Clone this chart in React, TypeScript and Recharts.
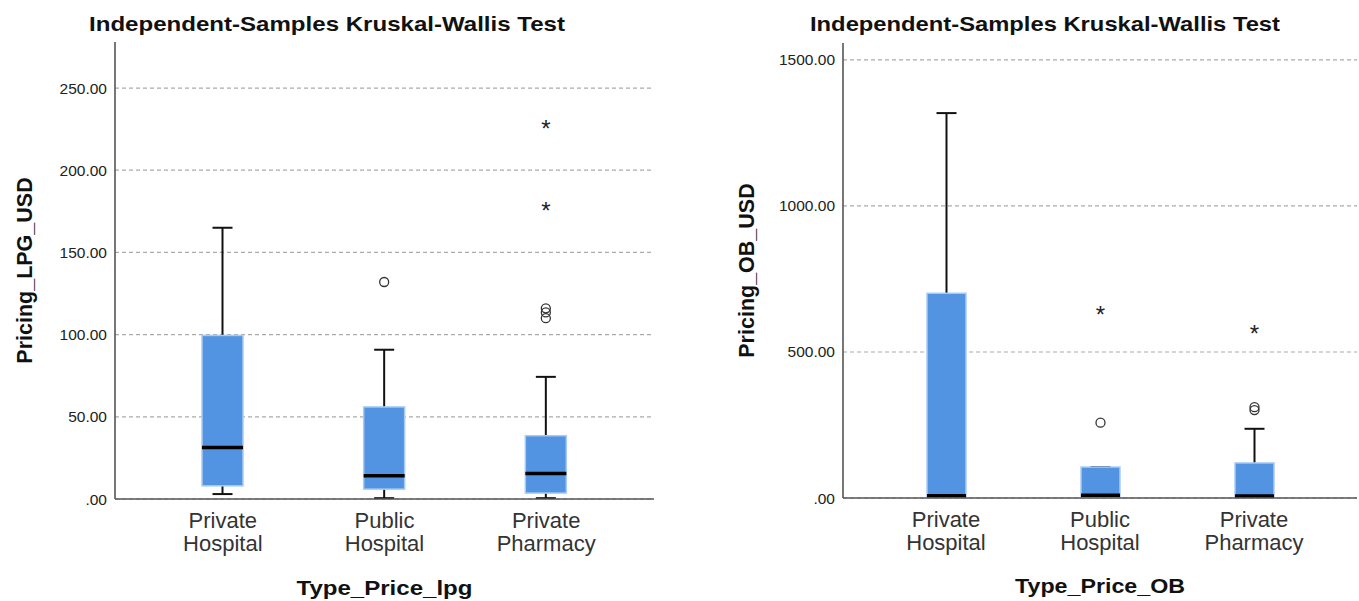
import React from 'react';
import { ComposedChart, Bar, XAxis, YAxis, CartesianGrid, Label } from 'recharts';

const FONT = '"Liberation Sans", Arial, Helvetica, sans-serif';

const categories = ['Private Hospital', 'Public Hospital', 'Private Pharmacy'];
const categoryLines = [
  ['Private', 'Hospital'],
  ['Public', 'Hospital'],
  ['Private', 'Pharmacy'],
];

// Pricing_LPG_USD by Type_Price_lpg
const lpgMin = [3, 0.5, 0.5];
const lpgQ1 = [8, 6, 3.6];
const lpgMedian = [31.3, 14.2, 15.5];
const lpgQ3 = [99.5, 56, 38.5];
const lpgMax = [165, 90.8, 74.3];
const lpgOutliers = [[], [132], [116, 113.5, 110]];
const lpgExtremes = [[], [], [228, 178]];
const lpgTicks = [0, 50, 100, 150, 200, 250];

// Pricing_OB_USD by Type_Price_OB
const obMin = [0, 0, 0];
const obQ1 = [1, 1, 1];
const obMedian = [8, 9, 7];
const obQ3 = [701, 106, 120];
const obMax = [1318, 106, 237];
const obOutliers = [[], [258], [311, 301]];
const obExtremes = [[], [644], [580]];
const obTicks = [0, 500, 1000, 1500];

function buildRows(
  min: number[], q1: number[], median: number[], q3: number[], max: number[],
  outliers: number[][], extremes: number[][]
) {
  return categories.map((name, i) => ({
    name,
    min: min[i], q1: q1[i], median: median[i], q3: q3[i], max: max[i],
    outliers: outliers[i], extremes: extremes[i],
    box: [q1[i], q3[i]],
  }));
}

const lpgRows = buildRows(lpgMin, lpgQ1, lpgMedian, lpgQ3, lpgMax, lpgOutliers, lpgExtremes);
const obRows = buildRows(obMin, obQ1, obMedian, obQ3, obMax, obOutliers, obExtremes);

const makeBoxShape = (capWidth: number) => (props: any) => {
  const { x, y, width, height, payload } = props;
  if (x == null || y == null || !payload) return <g />;
  const top = Math.min(y, y + height);
  const h = Math.abs(height);
  const { q1, q3, min, max, median, outliers, extremes } = payload;
  const k = h / (q3 - q1);
  const yOf = (v: number) => top + (q3 - v) * k;
  const cx = x + width / 2;
  const bottom = top + h;
  const wc = '#111';
  return (
    <g>
      <line x1={cx} x2={cx} y1={yOf(max)} y2={top} stroke={wc} strokeWidth={2} />
      <line x1={cx - capWidth / 2} x2={cx + capWidth / 2} y1={yOf(max)} y2={yOf(max)} stroke={wc} strokeWidth={2} />
      <line x1={cx} x2={cx} y1={bottom} y2={yOf(min)} stroke={wc} strokeWidth={2} />
      <line x1={cx - capWidth / 2} x2={cx + capWidth / 2} y1={yOf(min)} y2={yOf(min)} stroke={wc} strokeWidth={2} />
      <rect x={x} y={top} width={width} height={h} fill="#5294E2" stroke="#A9CBF3" strokeWidth={1.5} />
      <line x1={x} x2={x + width} y1={yOf(median)} y2={yOf(median)} stroke="#000" strokeWidth={3.5} />
      {outliers.map((v: number, i: number) => (
        <circle key={'o' + i} cx={cx} cy={yOf(v)} r={4.5} fill="none" stroke="#333" strokeWidth={1.3} />
      ))}
      {extremes.map((v: number, i: number) => (
        <text key={'e' + i} x={cx} y={yOf(v) + 13} textAnchor="middle" fontSize={24} fontFamily={FONT} fill="#222">*</text>
      ))}
    </g>
  );
};

const CategoryTick = (props: any) => {
  const { x, y, payload } = props;
  const idx = categories.indexOf(payload.value);
  const lines = categoryLines[idx] || [payload.value];
  return (
    <text x={x} y={y} textAnchor="middle" fill="#333" fontSize={22} fontFamily={FONT}>
      <tspan x={x} dy={21}>{lines[0]}</tspan>
      <tspan x={x} dy={23}>{lines[1]}</tspan>
    </text>
  );
};

const fmt = (v: number) => (v === 0 ? '.00' : v.toFixed(2));

type PanelProps = {
  rows: any[];
  width: number;
  yAxisWidth: number;
  marginTop: number;
  marginRight: number;
  plotBottom: number;
  domainMax: number;
  ticks: number[];
  barSize: number;
  pad: number;
  yTitle: string;
  yTitleX: number;
  xTitle: string;
  xTitleY: number;
  xTitleLen: number;
};

function Panel(p: PanelProps) {
  const H = 601;
  const xAxisHeight = 60;
  const bottomMargin = H - p.plotBottom - xAxisHeight;
  return (
    <ComposedChart
      width={p.width}
      height={H}
      data={p.rows}
      margin={{ top: p.marginTop, right: p.marginRight, bottom: bottomMargin, left: 0 }}
    >
      <CartesianGrid
        vertical={false}
        horizontalValues={p.ticks}
        stroke="#ababab"
        strokeDasharray="4 3"
        strokeWidth={1.2}
      />
      <XAxis
        dataKey="name"
        type="category"
        height={xAxisHeight}
        padding={{ left: p.pad, right: p.pad }}
        axisLine={{ stroke: '#555', strokeWidth: 1.6 }}
        tickLine={false}
        tick={<CategoryTick />}
        interval={0}
      >
        <Label
          content={(lp: any) => {
            const vb = lp.viewBox || {};
            return (
              <text
                x={vb.x + vb.width / 2}
                y={p.xTitleY}
                textAnchor="middle"
                fontSize={21}
                fontWeight="bold"
                fontFamily={FONT}
                fill="#111"
                textLength={p.xTitleLen}
                lengthAdjust="spacingAndGlyphs"
              >
                {p.xTitle}
              </text>
            );
          }}
        />
      </XAxis>
      <YAxis
        type="number"
        width={p.yAxisWidth}
        domain={[0, p.domainMax]}
        ticks={p.ticks}
        allowDataOverflow
        tickFormatter={fmt}
        axisLine={{ stroke: '#555', strokeWidth: 1.6 }}
        tickLine={false}
        tick={{ fill: '#222', fontSize: 15.5, fontFamily: FONT }}
      >
        <Label
          content={(lp: any) => {
            const vb = lp.viewBox || {};
            const cy = vb.y + vb.height / 2;
            return (
              <text
                x={p.yTitleX}
                y={cy}
                transform={`rotate(-90, ${p.yTitleX}, ${cy})`}
                textAnchor="middle"
                fontSize={21.5}
                fontWeight="bold"
                fontFamily={FONT}
                fill="#111"
              >
                {p.yTitle}
              </text>
            );
          }}
        />
      </YAxis>
      <Bar dataKey="box" barSize={p.barSize} isAnimationActive={false} shape={makeBoxShape(20)} />
    </ComposedChart>
  );
}

export default function App() {
  return (
    <div style={{ position: 'absolute', left: 0, top: 0, width: 1359, height: 601, background: '#fff', overflow: 'hidden' }}>
      <div style={{ position: 'absolute', left: 0, top: 0 }}>
        <Panel
          rows={lpgRows}
          width={680}
          yAxisWidth={115}
          marginTop={42}
          marginRight={26}
          plotBottom={499}
          domainMax={278}
          ticks={lpgTicks}
          barSize={41}
          pad={27}
          yTitle="Pricing_LPG_USD"
          yTitleX={31.5}
          xTitle="Type_Price_lpg"
          xTitleY={595}
          xTitleLen={176}
        />
      </div>
      <div style={{ position: 'absolute', left: 680, top: 0 }}>
        <Panel
          rows={obRows}
          width={679}
          yAxisWidth={163}
          marginTop={43}
          marginRight={2}
          plotBottom={498}
          domainMax={1558}
          ticks={obTicks}
          barSize={39}
          pad={26}
          yTitle="Pricing_OB_USD"
          yTitleX={74}
          xTitle="Type_Price_OB"
          xTitleY={593}
          xTitleLen={170}
        />
      </div>
      <svg width={1359} height={601} style={{ position: 'absolute', left: 0, top: 0, pointerEvents: 'none' }}>
        <text x={89} y={31} fontSize={21} fontWeight="bold" fontFamily={FONT} fill="#111" textLength={476} lengthAdjust="spacingAndGlyphs">
          Independent-Samples Kruskal-Wallis Test
        </text>
        <text x={810} y={31} fontSize={21} fontWeight="bold" fontFamily={FONT} fill="#111" textLength={470} lengthAdjust="spacingAndGlyphs">
          Independent-Samples Kruskal-Wallis Test
        </text>
      </svg>
    </div>
  );
}
